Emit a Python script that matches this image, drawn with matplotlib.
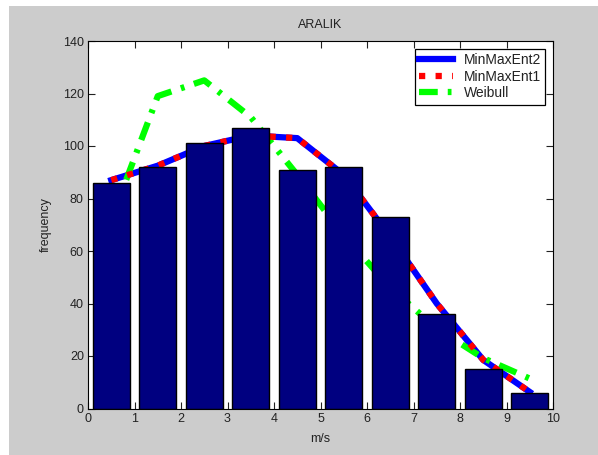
import matplotlib.pyplot as plt
from matplotlib.patches import Rectangle

# bin centres (m/s) and observed counts
centres = [0.5, 1.5, 2.5, 3.5, 4.5, 5.5, 6.5, 7.5, 8.5, 9.5]
counts = [86, 92, 101, 107, 91, 92, 73, 36, 15, 6]

# fitted curves
minmaxent2 = [87, 92.5, 100, 104, 103, 89, 65.5, 40, 18.5, 6.3]
minmaxent1 = [87, 92.5, 100, 104, 103, 89, 65.5, 40, 18.5, 6.3]
weibull = [72, 119, 125, 111, 89, 66, 46, 30.5, 19.2, 11.4]

plt.rcParams['font.family'] = ['Liberation Sans', 'DejaVu Sans']

fig = plt.figure(figsize=(5.98, 4.55), dpi=100, facecolor='white')
# grey MATLAB-style figure panel
fig.patches.append(Rectangle((9 / 598, 0), 1, 1 - 6 / 455, transform=fig.transFigure,
                             facecolor='#cccccc', edgecolor='none', zorder=-10))

ax = fig.add_axes([88 / 598, 1 - 408.5 / 455, 465 / 598, 367.5 / 455])
ax.set_facecolor('white')

ax.plot(centres, minmaxent2, '-', color='#0000ff', lw=4.5, label='MinMaxEnt2', zorder=1)
ax.plot(centres, minmaxent1, ':', color='#ff0000', lw=4.5, label='MinMaxEnt1', zorder=1.1)
ax.plot(centres, weibull, color='#00ff00', lw=4.5, label='Weibull', zorder=1,
        dashes=(3, 1.6, 0.6, 1.6))
ax.bar(centres, counts, width=0.8, color='#000080', edgecolor='black', lw=1, zorder=2)

ax.set_xlim(0, 10)
ax.set_ylim(0, 140)
ax.set_xticks(range(0, 11))
ax.set_yticks(range(0, 141, 20))
ax.tick_params(direction='in', top=True, right=True, length=5, width=0.8,
               labelsize=9, pad=3, colors='#222222')
for s in ax.spines.values():
    s.set_linewidth(0.8)

ax.set_title('ARALIK', fontsize=9, pad=9, color='#222222')
ax.set_xlabel('m/s', fontsize=9, labelpad=6, color='#222222')
ax.set_ylabel('frequency', fontsize=9, labelpad=8, color='#222222')

leg = ax.legend(loc='upper right', fontsize=10, frameon=True, fancybox=False,
                edgecolor='black', framealpha=1, handlelength=2.4,
                handletextpad=0.8, borderaxespad=0.55, labelspacing=0.2,
                borderpad=0.3)
leg.get_frame().set_linewidth(0.9)
for t in leg.get_texts():
    t.set_color('#222222')

fig.savefig('out.png', dpi=100, facecolor=fig.get_facecolor())
